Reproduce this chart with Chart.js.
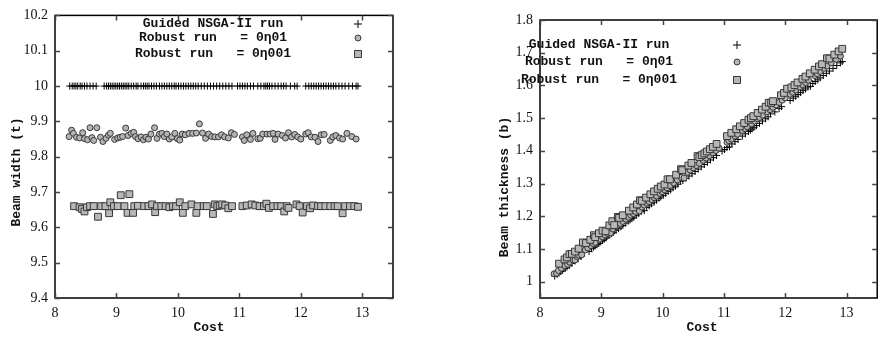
<!DOCTYPE html>
<html>
<head>
<meta charset="utf-8">
<script src="https://cdn.jsdelivr.net/npm/chart.js@4.4.1/dist/chart.umd.min.js"></script>
<style>
    html, body { margin: 0; padding: 0; background: #fff; width: 883px; height: 338px; overflow: hidden; }
    #widthChart { position: absolute; left: 0; top: 0; }
    #thickChart { position: absolute; left: 440px; top: 0; }
</style>
</head>
<body>
<canvas id="widthChart" width="440" height="338"></canvas>
<canvas id="thickChart" width="443" height="338"></canvas>
<script>
/*===================================================
                DATA
===================================================*/

var seriesNames = ["Guided NSGA-II run", "Robust run   = 0\u03b701", "Robust run   = 0\u03b7001"];

var guidedCost = [8.24, 8.28, 8.31, 8.34, 8.37, 8.41, 8.44, 8.48, 8.52, 8.57,
    8.62, 8.67, 8.80, 8.84, 8.87, 8.90, 8.93, 8.96, 8.99, 9.02,
    9.05, 9.08, 9.11, 9.14, 9.17, 9.20, 9.24, 9.28, 9.32, 9.35,
    9.40, 9.44, 9.47, 9.50, 9.53, 9.57, 9.61, 9.65, 9.70, 9.74,
    9.78, 9.82, 9.86, 9.90, 9.94, 9.97, 10.01, 10.05, 10.09, 10.13,
    10.17, 10.21, 10.25, 10.29, 10.33, 10.38, 10.43, 10.48, 10.53, 10.58,
    10.63, 10.68, 10.73, 10.78, 10.83, 10.88, 10.97, 11.01, 11.05, 11.09,
    11.13, 11.18, 11.23, 11.30, 11.35, 11.40, 11.43, 11.46, 11.49, 11.53,
    11.58, 11.63, 11.68, 11.72, 11.76, 11.83, 11.90, 11.94, 12.08, 12.13,
    12.17, 12.21, 12.25, 12.29, 12.33, 12.37, 12.41, 12.45, 12.49, 12.53,
    12.57, 12.62, 12.67, 12.72, 12.78, 12.84, 12.90, 12.93];
var guidedWidth = [10, 10, 10, 10, 10, 10, 10, 10, 10, 10,
    10, 10, 10, 10, 10, 10, 10, 10, 10, 10,
    10, 10, 10, 10, 10, 10, 10, 10, 10, 10,
    10, 10, 10, 10, 10, 10, 10, 10, 10, 10,
    10, 10, 10, 10, 10, 10, 10, 10, 10, 10,
    10, 10, 10, 10, 10, 10, 10, 10, 10, 10,
    10, 10, 10, 10, 10, 10, 10, 10, 10, 10,
    10, 10, 10, 10, 10, 10, 10, 10, 10, 10,
    10, 10, 10, 10, 10, 10, 10, 10, 10, 10,
    10, 10, 10, 10, 10, 10, 10, 10, 10, 10,
    10, 10, 10, 10, 10, 10, 10, 10];
var guidedThick = [1.017, 1.022, 1.026, 1.031, 1.035, 1.040, 1.045, 1.050, 1.056, 1.063,
    1.070, 1.077, 1.092, 1.101, 1.105, 1.109, 1.113, 1.117, 1.122, 1.126,
    1.130, 1.134, 1.141, 1.143, 1.147, 1.151, 1.157, 1.162, 1.168, 1.172,
    1.179, 1.185, 1.189, 1.193, 1.197, 1.203, 1.208, 1.214, 1.217, 1.227,
    1.232, 1.238, 1.243, 1.249, 1.255, 1.259, 1.264, 1.270, 1.276, 1.281,
    1.287, 1.292, 1.298, 1.307, 1.309, 1.316, 1.323, 1.330, 1.337, 1.344,
    1.351, 1.358, 1.365, 1.372, 1.379, 1.386, 1.399, 1.404, 1.410, 1.412,
    1.421, 1.428, 1.435, 1.445, 1.452, 1.459, 1.463, 1.467, 1.472, 1.477,
    1.484, 1.491, 1.498, 1.504, 1.513, 1.519, 1.529, 1.535, 1.554, 1.561,
    1.567, 1.572, 1.578, 1.584, 1.589, 1.595, 1.597, 1.606, 1.612, 1.617,
    1.623, 1.630, 1.637, 1.644, 1.652, 1.661, 1.669, 1.673];

var robust01Cost = [8.23, 8.27, 8.30, 8.35, 8.40, 8.45, 8.48, 8.53, 8.57, 8.60,
    8.63, 8.68, 8.74, 8.78, 8.83, 8.87, 8.90, 8.97, 9.02, 9.06,
    9.10, 9.15, 9.19, 9.24, 9.28, 9.31, 9.35, 9.40, 9.44, 9.48,
    9.52, 9.56, 9.62, 9.66, 9.70, 9.74, 9.78, 9.82, 9.86, 9.90,
    9.95, 9.99, 10.03, 10.07, 10.12, 10.18, 10.24, 10.30, 10.35, 10.40,
    10.45, 10.50, 10.55, 10.60, 10.66, 10.71, 10.76, 10.82, 10.87, 10.92,
    11.05, 11.08, 11.12, 11.18, 11.22, 11.30, 11.34, 11.38, 11.45, 11.50,
    11.55, 11.58, 11.63, 11.70, 11.75, 11.80, 11.85, 11.90, 11.95, 12.00,
    12.08, 12.12, 12.17, 12.23, 12.28, 12.33, 12.38, 12.48, 12.52, 12.57,
    12.63, 12.68, 12.75, 12.83, 12.90];
var robust01Width = [9.857, 9.875, 9.866, 9.855, 9.853, 9.868, 9.851, 9.848, 9.882, 9.854,
    9.846, 9.882, 9.855, 9.843, 9.852, 9.861, 9.866, 9.849, 9.853, 9.855,
    9.857, 9.881, 9.860, 9.866, 9.869, 9.857, 9.851, 9.856, 9.848, 9.855,
    9.850, 9.864, 9.882, 9.852, 9.864, 9.866, 9.857, 9.864, 9.850, 9.856,
    9.866, 9.851, 9.847, 9.864, 9.862, 9.866, 9.866, 9.867, 9.893, 9.867,
    9.852, 9.864, 9.857, 9.856, 9.856, 9.862, 9.856, 9.853, 9.868, 9.863,
    9.856, 9.846, 9.862, 9.849, 9.866, 9.851, 9.852, 9.864, 9.864, 9.864,
    9.866, 9.849, 9.864, 9.860, 9.853, 9.868, 9.856, 9.863, 9.856, 9.850,
    9.864, 9.868, 9.856, 9.855, 9.843, 9.862, 9.863, 9.846, 9.856, 9.860,
    9.853, 9.850, 9.866, 9.857, 9.850];
var robust01Thick = [1.024, 1.026, 1.034, 1.041, 1.049, 1.053, 1.060, 1.067, 1.066, 1.077,
    1.081, 1.082, 1.097, 1.103, 1.110, 1.116, 1.120, 1.130, 1.137, 1.143,
    1.148, 1.149, 1.161, 1.168, 1.174, 1.178, 1.184, 1.191, 1.197, 1.203,
    1.208, 1.214, 1.216, 1.228, 1.234, 1.240, 1.245, 1.251, 1.257, 1.262,
    1.270, 1.275, 1.281, 1.287, 1.294, 1.302, 1.311, 1.319, 1.317, 1.334,
    1.341, 1.348, 1.355, 1.362, 1.371, 1.378, 1.385, 1.394, 1.401, 1.408,
    1.426, 1.431, 1.436, 1.445, 1.451, 1.462, 1.468, 1.474, 1.483, 1.491,
    1.498, 1.502, 1.509, 1.519, 1.526, 1.533, 1.540, 1.548, 1.555, 1.562,
    1.573, 1.579, 1.586, 1.595, 1.602, 1.609, 1.616, 1.630, 1.636, 1.643,
    1.652, 1.659, 1.669, 1.680, 1.690];

var robust001Cost = [8.31, 8.40, 8.44, 8.48, 8.52, 8.57, 8.63, 8.70, 8.75, 8.82,
    8.88, 8.90, 8.96, 9.02, 9.07, 9.13, 9.18, 9.21, 9.27, 9.29,
    9.35, 9.45, 9.52, 9.58, 9.63, 9.66, 9.73, 9.80, 9.86, 9.92,
    9.97, 10.03, 10.08, 10.12, 10.22, 10.30, 10.32, 10.42, 10.47, 10.57,
    10.60, 10.64, 10.68, 10.72, 10.77, 10.82, 10.88, 11.05, 11.12, 11.20,
    11.26, 11.33, 11.40, 11.44, 11.48, 11.55, 11.62, 11.68, 11.73, 11.77,
    11.80, 11.93, 11.98, 12.03, 12.10, 12.15, 12.20, 12.28, 12.33, 12.40,
    12.48, 12.55, 12.60, 12.68, 12.72, 12.80, 12.87, 12.93];
var robust001Width = [9.660, 9.657, 9.652, 9.645, 9.657, 9.660, 9.660, 9.630, 9.660, 9.660,
    9.640, 9.671, 9.660, 9.660, 9.691, 9.660, 9.641, 9.694, 9.641, 9.660,
    9.661, 9.660, 9.660, 9.665, 9.643, 9.660, 9.660, 9.660, 9.657, 9.660,
    9.660, 9.671, 9.641, 9.660, 9.665, 9.641, 9.660, 9.660, 9.660, 9.638,
    9.665, 9.660, 9.662, 9.665, 9.662, 9.654, 9.660, 9.660, 9.662, 9.665,
    9.662, 9.660, 9.660, 9.667, 9.655, 9.660, 9.660, 9.660, 9.645, 9.660,
    9.655, 9.665, 9.660, 9.642, 9.660, 9.654, 9.662, 9.660, 9.660, 9.660,
    9.660, 9.660, 9.660, 9.640, 9.660, 9.660, 9.660, 9.658];
var robust001Thick = [1.055, 1.068, 1.074, 1.084, 1.085, 1.092, 1.101, 1.120, 1.118, 1.128,
    1.142, 1.136, 1.148, 1.156, 1.154, 1.172, 1.185, 1.173, 1.198, 1.195,
    1.203, 1.217, 1.227, 1.236, 1.249, 1.247, 1.257, 1.267, 1.276, 1.284,
    1.291, 1.297, 1.313, 1.313, 1.327, 1.344, 1.341, 1.355, 1.363, 1.384,
    1.381, 1.387, 1.392, 1.398, 1.405, 1.412, 1.421, 1.445, 1.455, 1.466,
    1.475, 1.485, 1.495, 1.500, 1.506, 1.516, 1.526, 1.535, 1.547, 1.547,
    1.552, 1.570, 1.577, 1.590, 1.594, 1.601, 1.609, 1.620, 1.627, 1.637,
    1.648, 1.658, 1.665, 1.683, 1.682, 1.694, 1.704, 1.712];

/*===================================================
                HELPERS
===================================================*/

var monoFont = 'bold 13px "Liberation Mono", "DejaVu Sans Mono", monospace';
var serifFont = '"Liberation Serif", "DejaVu Serif", serif';

function toPoints(xs, ys) {
    var pts = [];
    for (var i = 0; i < xs.length; i++) {
        pts.push({x: xs[i], y: ys[i]});
    }
    return pts;
}

function makeDatasets(guidedY, r01Y, r001Y) {
    return [{
        label: seriesNames[0],
        data: toPoints(guidedCost, guidedY),
        pointStyle: 'cross',
        pointRadius: 3.5,
        pointBorderColor: '#000',
        pointBorderWidth: 1,
        order: 3
    }, {
        label: seriesNames[1],
        data: toPoints(robust01Cost, r01Y),
        pointStyle: 'circle',
        pointRadius: 3,
        pointBackgroundColor: '#b4b4b4',
        pointBorderColor: '#383838',
        pointBorderWidth: 1,
        order: 2
    }, {
        label: seriesNames[2],
        data: toPoints(robust001Cost, r001Y),
        pointStyle: 'rect',
        pointRadius: 4.8,
        pointBackgroundColor: '#b8b8b8',
        pointBorderColor: '#383838',
        pointBorderWidth: 1,
        order: 1
    }];
}

function drawSymbol(ctx, kind, x, y) {
    ctx.lineWidth = 1;
    ctx.strokeStyle = kind == 'cross' ? '#000' : '#383838';
    ctx.fillStyle = '#b6b6b6';
    ctx.beginPath();
    if (kind == 'cross') {
        ctx.moveTo(x - 4, y); ctx.lineTo(x + 4, y);
        ctx.moveTo(x, y - 4); ctx.lineTo(x, y + 4);
        ctx.stroke();
    } else if (kind == 'circle') {
        ctx.arc(x, y, 3, 0, Math.PI * 2);
        ctx.fill(); ctx.stroke();
    } else {
        ctx.rect(x - 3.5, y - 3.5, 7, 7);
        ctx.fill(); ctx.stroke();
    }
}

// gnuplot-like frame: box, inward ticks on all four sides, titles and key
function framePlugin(look) {
    return {
        id: 'frame',
        afterDraw: function(chart) {
            var ctx = chart.ctx, a = chart.chartArea;
            var xs = chart.scales.x, ys = chart.scales.y;
            ctx.save();

            ctx.strokeStyle = '#000';
            ctx.lineWidth = 1.5;
            ctx.strokeRect(a.left, a.top, a.right - a.left, a.bottom - a.top);

            ctx.strokeStyle = '#444';
            ctx.lineWidth = 1.5;
            ctx.beginPath();
            xs.ticks.forEach(function(t) {
                var p = Math.round(xs.getPixelForValue(t.value)) + 0.5;
                ctx.moveTo(p, a.bottom); ctx.lineTo(p, a.bottom - 5);
                ctx.moveTo(p, a.top); ctx.lineTo(p, a.top + 5);
            });
            ys.ticks.forEach(function(t) {
                var p = Math.round(ys.getPixelForValue(t.value)) + 0.5;
                ctx.moveTo(a.left, p); ctx.lineTo(a.left + 5, p);
                ctx.moveTo(a.right, p); ctx.lineTo(a.right - 5, p);
            });
            ctx.stroke();

            ctx.fillStyle = '#111';
            ctx.font = monoFont;
            ctx.textAlign = 'center';
            ctx.textBaseline = 'middle';
            ctx.fillText(look.xTitle, look.xTitleAt[0], look.xTitleAt[1]);

            ctx.save();
            ctx.translate(look.yTitleAt[0], look.yTitleAt[1]);
            ctx.rotate(-Math.PI / 2);
            ctx.fillText(look.yTitle, 0, 0);
            ctx.restore();

            var kinds = ['cross', 'circle', 'rect'];
            for (var i = 0; i < seriesNames.length; i++) {
                ctx.fillStyle = '#111';
                ctx.fillText(seriesNames[i], look.keyText, look.keyRows[i]);
                drawSymbol(ctx, kinds[i], look.keySymbol, look.keyRows[i]);
            }
            ctx.restore();
        }
    };
}

function makeChart(canvasId, datasets, yMin, yMax, yAxisWidth, pad, look) {
    return new Chart(document.getElementById(canvasId).getContext('2d'), {
        type: 'scatter',
        data: { datasets: datasets },
        options: {
            responsive: false,
            animation: false,
            devicePixelRatio: 1,
            layout: { padding: pad },
            plugins: { legend: { display: false }, tooltip: { enabled: false } },
            scales: {
                x: {
                    type: 'linear',
                    min: 8,
                    max: 13.5,
                    grid: { display: false, drawTicks: false },
                    border: { display: false },
                    ticks: {
                        stepSize: 1,
                        includeBounds: false,
                        padding: 7,
                        color: '#111',
                        font: { family: serifFont, size: 14 },
                        callback: function(v) { return String(+v.toFixed(2)); }
                    },
                    afterFit: function(s) { s.height = 40; }
                },
                y: {
                    type: 'linear',
                    min: yMin,
                    max: yMax,
                    grid: { display: false, drawTicks: false },
                    border: { display: false },
                    ticks: {
                        stepSize: 0.1,
                        includeBounds: false,
                        padding: 7,
                        color: '#111',
                        font: { family: serifFont, size: 14 },
                        callback: function(v) { return String(+v.toFixed(2)); }
                    },
                    afterFit: function(s) { s.width = yAxisWidth; }
                }
            }
        },
        plugins: [framePlugin(look)]
    });
}

/*===================================================
                THE TWO PLOTS
===================================================*/

var widthChart = makeChart('widthChart',
    makeDatasets(guidedWidth, robust01Width, robust001Width),
    9.4, 10.2, 55, { top: 5, right: 47, bottom: 0, left: 0 },
    {
        xTitle: 'Cost', xTitleAt: [209, 328],
        yTitle: 'Beam width (t)', yTitleAt: [17, 172],
        keyText: 213, keySymbol: 358, keyRows: [24, 38, 54]
    });

var thickChart = makeChart('thickChart',
    makeDatasets(guidedThick, robust01Thick, robust001Thick),
    0.95, 1.8, 100, { top: 20, right: 1, bottom: 0, left: 0 },
    {
        xTitle: 'Cost', xTitleAt: [262, 328],
        yTitle: 'Beam thickness (b)', yTitleAt: [65, 187],
        keyText: 159, keySymbol: 297, keyRows: [45, 62, 80]
    });
</script>
</body>
</html>
